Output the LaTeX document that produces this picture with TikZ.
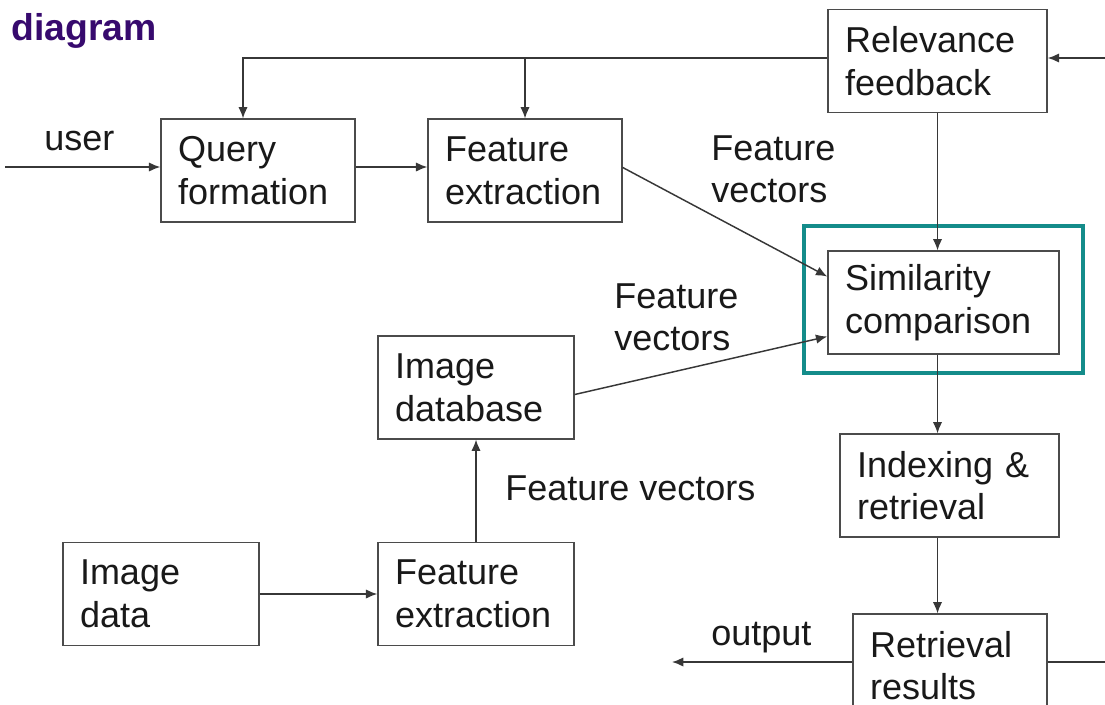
\documentclass[tikz,border=0pt]{standalone}
\usepackage{fontspec}
\setmainfont{Liberation Sans}
\usetikzlibrary{arrows.meta,calc}
\definecolor{edge}{RGB}{75,75,75}
\definecolor{wire}{RGB}{55,55,55}
\definecolor{ink}{RGB}{25,25,25}
\definecolor{hilite}{RGB}{20,140,138}
\definecolor{titlecol}{RGB}{55,10,110}
\begin{document}
\begin{tikzpicture}[x=0.75pt,y=-0.75pt,
  txt/.style={font=\fontsize{27}{32}\selectfont, text=ink},
  box/.style={txt, draw=edge, line width=1.1pt, fill=white, inner xsep=12.75pt,
    align=left, minimum height=77pt},
  w194/.style={minimum width=145.5pt, text width=120pt},
  w196/.style={minimum width=147pt, text width=121.5pt},
  w219/.style={minimum width=164.25pt, text width=138.75pt},
  w231/.style={minimum width=173.25pt, text width=147.75pt},
  lbl/.style={txt, inner sep=0pt, align=left},
  wire/.style={draw=wire, line width=1.1pt},
  arr/.style={wire, -{Latex[length=8.5pt,width=7pt]}}]
\useasboundingbox (0,0) rectangle (1105,704);
\clip (0,0) rectangle (1105,704);

% heading
\node[anchor=base west, inner sep=0pt, font=\fontsize{28}{32}\selectfont\bfseries,
  text=titlecol] (ttl) at (11,40) {diagram};

% highlight frame around the comparison stage
\node[draw=hilite, line width=2.3pt, minimum width=209.25pt, minimum height=110.25pt,
  inner sep=0pt] (hl) at (943.5,299.5) {};

% processing blocks
\node[box, w219] (rel) at (937.5,61)   {Relevance\\feedback};
\node[box, w194] (qf)  at (258,170.5)  {Query\\formation};
\node[box, w194] (ft)  at (525,170.5)  {Feature\\extraction};
\node[box, w231] (sim) at (943.5,302.5){Similarity\\comparison};
\node[box, w196] (idb) at (476,387.5)  {Image\\database};
\node[box, w219] (idx) at (949.5,485.5){Indexing \&\\retrieval};
\node[box, w196] (idt) at (161,594)    {Image\\data};
\node[box, w196] (fb)  at (476,594)    {Feature\\extraction};
\node[box, w194] (rr)  at (950,665.5)  {Retrieval\\results};

% free ends of connectors
\coordinate (usr)  at (5,167);
\coordinate (fbq)  at (243,58);
\coordinate (rin)  at (1105,58);
\coordinate (out)  at (672,662);
\coordinate (rout) at (1105,662);

% connectors
\draw[arr] (usr) -- (usr -| qf.west);
\draw[arr] (qf.east |- usr) -- (ft.west |- usr);
\draw[arr] (rel.west |- fbq) -- (fbq) -- (fbq |- qf.north);
\draw[arr] (ft.north |- fbq) -- (ft.north);
\draw[arr] (rin) -- (rin -| rel.east);
\draw[arr] (rel.south) -- (rel.south |- sim.north);
\draw[arr] (rel.south |- sim.south) -- (rel.south |- idx.north);
\draw[arr] (rel.south |- idx.south) -- (rel.south |- rr.north);
\draw[arr] ($(ft.east)+(0,-3)$) -- ($(sim.west)+(0,-26)$);
\draw[arr] ($(idb.east)+(0,7)$) -- ($(sim.west)+(0,34)$);
\draw[arr] (idt.east) -- (fb.west);
\draw[arr] (fb.north) -- (idb.south);
\draw[arr] (rr.west |- out) -- (out);
\draw[wire] (rr.east |- rout) -- (rout);

% connector labels
\node[lbl, anchor=base west]  (lu) at (44,150)  {user};
\node[lbl, anchor=north west] (l1) at (711,135) {Feature\\vectors};
\node[lbl, anchor=north west] (l2) at (614,283) {Feature\\vectors};
\node[lbl, anchor=base west]  (l3) at (505,500) {Feature vectors};
\node[lbl, anchor=base west]  (lo) at (711,645) {output};
\end{tikzpicture}
\end{document}
